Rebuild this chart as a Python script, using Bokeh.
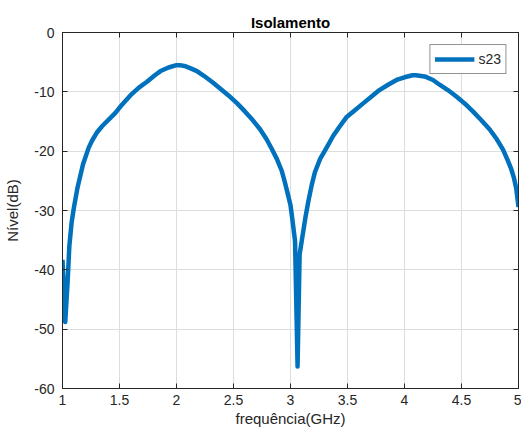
from bokeh.plotting import figure
from bokeh.models import Range1d, FixedTicker, LinearAxis
from bokeh.embed import file_html
from bokeh.resources import INLINE

freq = [1.0, 1.024, 1.045, 1.06, 1.08, 1.10, 1.13, 1.18, 1.23, 1.26, 1.30, 1.347, 1.405,
        1.464, 1.52, 1.595, 1.67, 1.741, 1.81, 1.86, 1.93, 2.0, 2.03, 2.08, 2.12, 2.179, 2.24, 2.31,
        2.38, 2.456, 2.53, 2.60, 2.67, 2.733, 2.79, 2.835, 2.88, 2.923, 2.95, 2.976, 3.0,
        3.019, 3.04, 3.062, 3.08, 3.13, 3.156, 3.185, 3.214, 3.26, 3.317, 3.375, 3.433,
        3.49, 3.565, 3.64, 3.711, 3.78, 3.856, 3.93, 4.0, 4.07, 4.10, 4.177, 4.25, 4.308,
        4.38, 4.455, 4.53, 4.60, 4.67, 4.746, 4.81, 4.863, 4.90, 4.936, 4.96, 4.98, 5.0]
s23 = [-38.3, -48.8, -42.0, -36.0, -32.0, -29.5, -26.3, -22.2, -19.4, -18.2, -16.9, -15.8, -14.7,
       -13.55, -12.2, -10.6, -9.3, -8.3, -7.2, -6.5, -5.9, -5.5, -5.5, -5.7, -6.0, -6.5, -7.3, -8.3,
       -9.4, -10.6, -11.9, -13.3, -14.8, -16.3, -18.0, -19.6, -21.3, -23.3, -25.2, -27.2, -29.1,
       -31.9, -35.2, -56.3, -37.4, -31.3, -28.5, -25.8, -23.55, -21.3, -19.4, -17.4, -15.8,
       -14.3, -13.1, -11.9, -10.8, -9.7, -8.8, -8.0, -7.55, -7.2, -7.2, -7.4, -8.0, -8.8,
       -9.7, -10.8, -12.0, -13.3, -14.7, -16.3, -18.0, -19.7, -21.3, -23.0, -24.5, -26.3, -29.4]

x_ticks = [1, 1.5, 2, 2.5, 3, 3.5, 4, 4.5, 5]
x_tick_labels = ["1", "1.5", "2", "2.5", "3", "3.5", "4", "4.5", "5"]
y_ticks = [-60, -50, -40, -30, -20, -10, 0]
y_tick_labels = ["-60", "-50", "-40", "-30", "-20", "-10", "0"]

FONT = "Liberation Sans"
DARK = "#262626"

p = figure(frame_width=456, frame_height=356, x_range=Range1d(1, 5), y_range=Range1d(-60, 0),
           output_backend="svg", toolbar_location=None,
           min_border_left=62, min_border_right=3, min_border_top=32, min_border_bottom=38,
           title="Isolamento")
p.title.text_font = FONT
p.title.text_font_size = "15px"
p.title.text_font_style = "bold"
p.title.text_color = "#000000"
p.title.align = "center"
p.title.standoff = 3

p.line(freq, s23, line_width=4.5, color="#0072BD", line_join="round", legend_label="s23")

for ax in (p.xaxis[0], p.yaxis[0]):
    ax.major_tick_in = 5
    ax.major_tick_out = 0
    ax.minor_tick_line_color = None
    ax.axis_line_color = DARK
    ax.major_tick_line_color = DARK
    ax.major_label_text_font = FONT
    ax.major_label_text_font_size = "14px"
    ax.major_label_text_color = DARK
    ax.axis_label_text_font = FONT
    ax.axis_label_text_font_size = "15px"
    ax.axis_label_text_font_style = "normal"
    ax.axis_label_text_color = DARK

p.xaxis.ticker = FixedTicker(ticks=x_ticks)
p.xaxis.major_label_overrides = dict(zip(x_ticks, x_tick_labels))
p.yaxis.ticker = FixedTicker(ticks=y_ticks)
p.yaxis.major_label_overrides = dict(zip(y_ticks, y_tick_labels))
p.xaxis.axis_label = "frequência(GHz)"
p.yaxis.axis_label = "Nível(dB)"
p.xaxis.major_label_standoff = 6
p.xaxis.axis_label_standoff = 2
p.yaxis.major_label_standoff = 8
p.yaxis.axis_label_standoff = 10

top = LinearAxis(ticker=FixedTicker(ticks=x_ticks), major_tick_in=5, major_tick_out=0,
                 minor_tick_line_color=None, axis_line_color=DARK, major_tick_line_color=DARK,
                 major_label_text_font_size="0px", major_label_standoff=0)
top.major_label_overrides = {t: "" for t in x_ticks}
right = LinearAxis(ticker=FixedTicker(ticks=y_ticks), major_tick_in=5, major_tick_out=0,
                   minor_tick_line_color=None, axis_line_color=DARK, major_tick_line_color=DARK,
                   major_label_text_font_size="0px", major_label_standoff=0)
right.major_label_overrides = {t: "" for t in y_ticks}
p.add_layout(top, "above")
p.add_layout(right, "right")

p.xgrid.ticker = FixedTicker(ticks=x_ticks)
p.ygrid.ticker = FixedTicker(ticks=y_ticks)
p.grid.grid_line_color = "#dddddd"
p.outline_line_color = DARK

p.legend.location = "top_right"
p.legend.margin = 12
p.legend.padding = 4
p.legend.spacing = 0
p.legend.glyph_width = 40
p.legend.glyph_height = 20
p.legend.label_standoff = 4
p.legend.label_text_font = FONT
p.legend.label_text_font_size = "14px"
p.legend.label_text_color = DARK
p.legend.border_line_color = DARK
p.legend.border_line_width = 1
p.legend.background_fill_alpha = 1

open("out.html", "w").write(file_html(p, INLINE))
